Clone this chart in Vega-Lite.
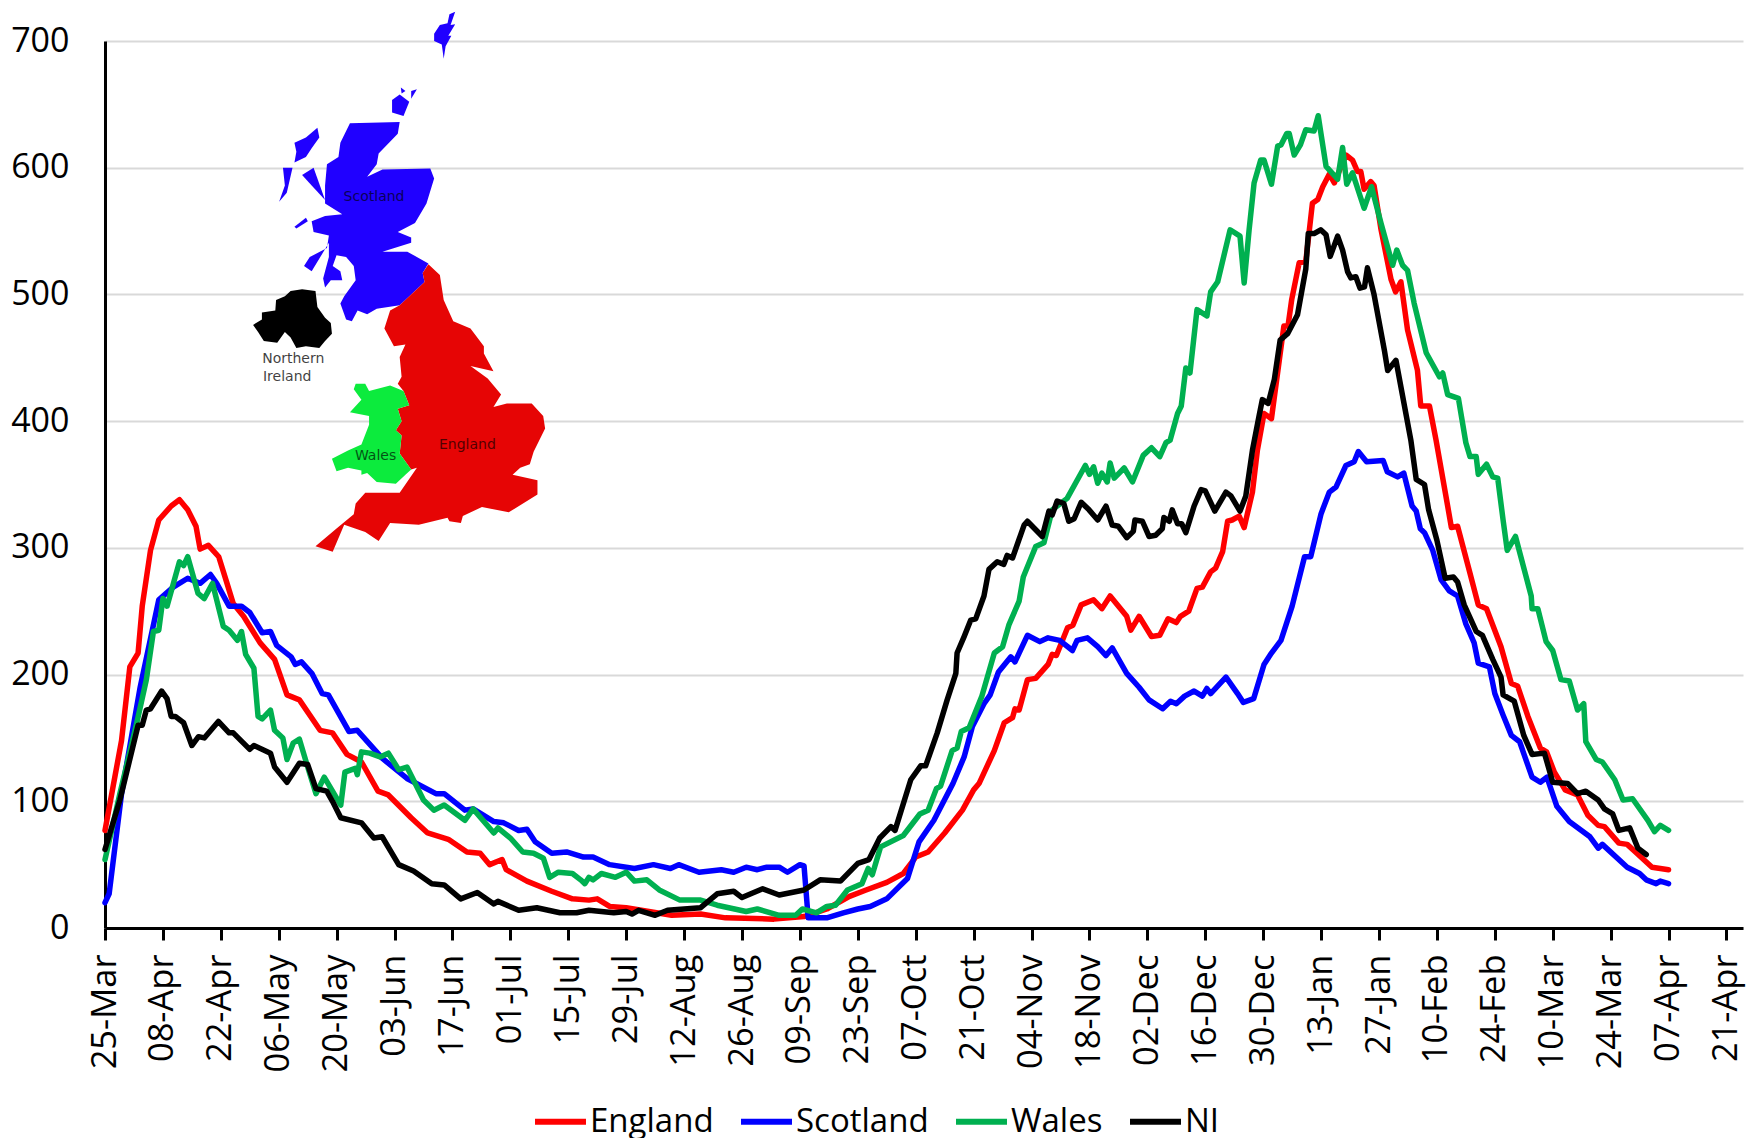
{"$schema":"https://vega.github.io/schema/vega-lite/v6.json","width":1638,"height":887,"autosize":{"type":"none"},"padding":{"left":105,"top":41,"right":3,"bottom":210},"background":"white","config":{"view":{"stroke":null},"font":"Open Sans"},
"datasets":{"map":[
{"r":"Scotland","p":1,"x":915,"y":345},{"r":"Scotland","p":1,"x":1045,"y":342},{"r":"Scotland","p":1,"x":1040,"y":375},{"r":"Scotland","p":1,"x":990,"y":430},{"r":"Scotland","p":1,"x":985,"y":460},{"r":"Scotland","p":1,"x":960,"y":495},{"r":"Scotland","p":1,"x":1000,"y":475},{"r":"Scotland","p":1,"x":1125,"y":472},{"r":"Scotland","p":1,"x":1135,"y":500},{"r":"Scotland","p":1,"x":1115,"y":570},{"r":"Scotland","p":1,"x":1085,"y":625},{"r":"Scotland","p":1,"x":1040,"y":650},{"r":"Scotland","p":1,"x":1075,"y":665},{"r":"Scotland","p":1,"x":1075,"y":680},{"r":"Scotland","p":1,"x":1000,"y":705},{"r":"Scotland","p":1,"x":1065,"y":705},{"r":"Scotland","p":1,"x":1120,"y":738},{"r":"Scotland","p":1,"x":1105,"y":765},{"r":"Scotland","p":1,"x":1110,"y":790},{"r":"Scotland","p":1,"x":1045,"y":855},{"r":"Scotland","p":1,"x":985,"y":865},{"r":"Scotland","p":1,"x":960,"y":880},{"r":"Scotland","p":1,"x":935,"y":870},{"r":"Scotland","p":1,"x":920,"y":900},{"r":"Scotland","p":1,"x":905,"y":895},{"r":"Scotland","p":1,"x":890,"y":850},{"r":"Scotland","p":1,"x":900,"y":830},{"r":"Scotland","p":1,"x":930,"y":785},{"r":"Scotland","p":1,"x":925,"y":745},{"r":"Scotland","p":1,"x":905,"y":720},{"r":"Scotland","p":1,"x":880,"y":715},{"r":"Scotland","p":1,"x":870,"y":745},{"r":"Scotland","p":1,"x":890,"y":760},{"r":"Scotland","p":1,"x":895,"y":785},{"r":"Scotland","p":1,"x":865,"y":785},{"r":"Scotland","p":1,"x":850,"y":805},{"r":"Scotland","p":1,"x":845,"y":780},{"r":"Scotland","p":1,"x":860,"y":720},{"r":"Scotland","p":1,"x":860,"y":680},{"r":"Scotland","p":1,"x":815,"y":760},{"r":"Scotland","p":1,"x":795,"y":745},{"r":"Scotland","p":1,"x":810,"y":720},{"r":"Scotland","p":1,"x":855,"y":695},{"r":"Scotland","p":1,"x":860,"y":660},{"r":"Scotland","p":1,"x":820,"y":650},{"r":"Scotland","p":1,"x":815,"y":620},{"r":"Scotland","p":1,"x":850,"y":605},{"r":"Scotland","p":1,"x":895,"y":600},{"r":"Scotland","p":1,"x":850,"y":570},{"r":"Scotland","p":1,"x":850,"y":520},{"r":"Scotland","p":1,"x":855,"y":460},{"r":"Scotland","p":1,"x":885,"y":440},{"r":"Scotland","p":1,"x":890,"y":400},
{"r":"Scotland","p":2,"x":770,"y":400},{"r":"Scotland","p":2,"x":800,"y":385},{"r":"Scotland","p":2,"x":830,"y":358},{"r":"Scotland","p":2,"x":835,"y":385},{"r":"Scotland","p":2,"x":815,"y":415},{"r":"Scotland","p":2,"x":800,"y":440},{"r":"Scotland","p":2,"x":770,"y":455},{"r":"Scotland","p":2,"x":775,"y":425},
{"r":"Scotland","p":3,"x":740,"y":470},{"r":"Scotland","p":3,"x":765,"y":470},{"r":"Scotland","p":3,"x":750,"y":540},{"r":"Scotland","p":3,"x":730,"y":565},{"r":"Scotland","p":3,"x":745,"y":520},
{"r":"Scotland","p":4,"x":790,"y":490},{"r":"Scotland","p":4,"x":820,"y":470},{"r":"Scotland","p":4,"x":840,"y":530},{"r":"Scotland","p":4,"x":850,"y":560},{"r":"Scotland","p":4,"x":815,"y":520},
{"r":"Scotland","p":5,"x":770,"y":635},{"r":"Scotland","p":5,"x":800,"y":610},{"r":"Scotland","p":5,"x":805,"y":620},{"r":"Scotland","p":5,"x":775,"y":640},
{"r":"Scotland","p":6,"x":1025,"y":280},{"r":"Scotland","p":6,"x":1045,"y":265},{"r":"Scotland","p":6,"x":1070,"y":285},{"r":"Scotland","p":6,"x":1055,"y":325},{"r":"Scotland","p":6,"x":1025,"y":315},
{"r":"Scotland","p":7,"x":1048,"y":245},{"r":"Scotland","p":7,"x":1060,"y":255},{"r":"Scotland","p":7,"x":1050,"y":262},
{"r":"Scotland","p":8,"x":1075,"y":255},{"r":"Scotland","p":8,"x":1090,"y":250},{"r":"Scotland","p":8,"x":1075,"y":277},
{"r":"Scotland","p":9,"x":1135,"y":95},{"r":"Scotland","p":9,"x":1150,"y":70},{"r":"Scotland","p":9,"x":1170,"y":65},{"r":"Scotland","p":9,"x":1175,"y":40},{"r":"Scotland","p":9,"x":1190,"y":33},{"r":"Scotland","p":9,"x":1178,"y":70},{"r":"Scotland","p":9,"x":1190,"y":68},{"r":"Scotland","p":9,"x":1172,"y":100},{"r":"Scotland","p":9,"x":1180,"y":100},{"r":"Scotland","p":9,"x":1165,"y":130},{"r":"Scotland","p":9,"x":1160,"y":165},{"r":"Scotland","p":9,"x":1155,"y":125},{"r":"Scotland","p":9,"x":1135,"y":115},
{"r":"NI","p":10,"x":760,"y":815},{"r":"NI","p":10,"x":790,"y":810},{"r":"NI","p":10,"x":825,"y":815},{"r":"NI","p":10,"x":830,"y":860},{"r":"NI","p":10,"x":850,"y":890},{"r":"NI","p":10,"x":865,"y":905},{"r":"NI","p":10,"x":868,"y":935},{"r":"NI","p":10,"x":850,"y":955},{"r":"NI","p":10,"x":835,"y":975},{"r":"NI","p":10,"x":800,"y":970},{"r":"NI","p":10,"x":775,"y":975},{"r":"NI","p":10,"x":760,"y":945},{"r":"NI","p":10,"x":745,"y":930},{"r":"NI","p":10,"x":725,"y":960},{"r":"NI","p":10,"x":690,"y":955},{"r":"NI","p":10,"x":675,"y":930},{"r":"NI","p":10,"x":662,"y":910},{"r":"NI","p":10,"x":685,"y":895},{"r":"NI","p":10,"x":685,"y":875},{"r":"NI","p":10,"x":720,"y":870},{"r":"NI","p":10,"x":722,"y":840},{"r":"NI","p":10,"x":745,"y":830},
{"r":"England","p":11,"x":1120,"y":740},{"r":"England","p":11,"x":1150,"y":770},{"r":"England","p":11,"x":1160,"y":840},{"r":"England","p":11,"x":1185,"y":900},{"r":"England","p":11,"x":1230,"y":920},{"r":"England","p":11,"x":1265,"y":970},{"r":"England","p":11,"x":1265,"y":990},{"r":"England","p":11,"x":1290,"y":1040},{"r":"England","p":11,"x":1230,"y":1025},{"r":"England","p":11,"x":1275,"y":1060},{"r":"England","p":11,"x":1310,"y":1105},{"r":"England","p":11,"x":1290,"y":1140},{"r":"England","p":11,"x":1325,"y":1130},{"r":"England","p":11,"x":1390,"y":1130},{"r":"England","p":11,"x":1420,"y":1165},{"r":"England","p":11,"x":1425,"y":1200},{"r":"England","p":11,"x":1395,"y":1265},{"r":"England","p":11,"x":1385,"y":1300},{"r":"England","p":11,"x":1360,"y":1310},{"r":"England","p":11,"x":1340,"y":1330},{"r":"England","p":11,"x":1405,"y":1345},{"r":"England","p":11,"x":1405,"y":1385},{"r":"England","p":11,"x":1330,"y":1435},{"r":"England","p":11,"x":1260,"y":1420},{"r":"England","p":11,"x":1210,"y":1445},{"r":"England","p":11,"x":1205,"y":1465},{"r":"England","p":11,"x":1175,"y":1460},{"r":"England","p":11,"x":1170,"y":1450},{"r":"England","p":11,"x":1095,"y":1470},{"r":"England","p":11,"x":1020,"y":1465},{"r":"England","p":11,"x":990,"y":1515},{"r":"England","p":11,"x":955,"y":1490},{"r":"England","p":11,"x":900,"y":1470},{"r":"England","p":11,"x":870,"y":1545},{"r":"England","p":11,"x":825,"y":1530},{"r":"England","p":11,"x":880,"y":1480},{"r":"England","p":11,"x":925,"y":1440},{"r":"England","p":11,"x":930,"y":1410},{"r":"England","p":11,"x":955,"y":1380},{"r":"England","p":11,"x":1045,"y":1380},{"r":"England","p":11,"x":1090,"y":1310},{"r":"England","p":11,"x":1075,"y":1315},{"r":"England","p":11,"x":1045,"y":1270},{"r":"England","p":11,"x":1050,"y":1220},{"r":"England","p":11,"x":1035,"y":1205},{"r":"England","p":11,"x":1050,"y":1180},{"r":"England","p":11,"x":1040,"y":1145},{"r":"England","p":11,"x":1070,"y":1135},{"r":"England","p":11,"x":1055,"y":1095},{"r":"England","p":11,"x":1040,"y":1075},{"r":"England","p":11,"x":1050,"y":1055},{"r":"England","p":11,"x":1045,"y":1000},{"r":"England","p":11,"x":1060,"y":965},{"r":"England","p":11,"x":1030,"y":970},{"r":"England","p":11,"x":1005,"y":920},{"r":"England","p":11,"x":1020,"y":870},{"r":"England","p":11,"x":1045,"y":855},{"r":"England","p":11,"x":1110,"y":790},{"r":"England","p":11,"x":1105,"y":765},
{"r":"Wales","p":12,"x":930,"y":1075},{"r":"Wales","p":12,"x":955,"y":1075},{"r":"Wales","p":12,"x":965,"y":1095},{"r":"Wales","p":12,"x":1020,"y":1080},{"r":"Wales","p":12,"x":1055,"y":1095},{"r":"Wales","p":12,"x":1070,"y":1135},{"r":"Wales","p":12,"x":1040,"y":1145},{"r":"Wales","p":12,"x":1050,"y":1180},{"r":"Wales","p":12,"x":1035,"y":1205},{"r":"Wales","p":12,"x":1050,"y":1220},{"r":"Wales","p":12,"x":1045,"y":1270},{"r":"Wales","p":12,"x":1075,"y":1315},{"r":"Wales","p":12,"x":1060,"y":1330},{"r":"Wales","p":12,"x":1035,"y":1355},{"r":"Wales","p":12,"x":985,"y":1350},{"r":"Wales","p":12,"x":960,"y":1325},{"r":"Wales","p":12,"x":945,"y":1330},{"r":"Wales","p":12,"x":945,"y":1318},{"r":"Wales","p":12,"x":910,"y":1310},{"r":"Wales","p":12,"x":880,"y":1320},{"r":"Wales","p":12,"x":868,"y":1285},{"r":"Wales","p":12,"x":910,"y":1262},{"r":"Wales","p":12,"x":945,"y":1245},{"r":"Wales","p":12,"x":965,"y":1190},{"r":"Wales","p":12,"x":965,"y":1165},{"r":"Wales","p":12,"x":915,"y":1155},{"r":"Wales","p":12,"x":945,"y":1120},{"r":"Wales","p":12,"x":925,"y":1090}
],
"labels":[{"t":"Scotland","x":978,"y":553,"g":"in"},{"t":"England","x":1222,"y":1247,"g":"in"},{"t":"Wales","x":982,"y":1278,"g":"in"},{"t":"Northern","x":767,"y":1005,"g":"out"},{"t":"Ireland","x":751,"y":1057,"g":"out"}],
"series":[
{"s":"England","d":0,"v":77},{"s":"England","d":4,"v":148},{"s":"England","d":6,"v":206},{"s":"England","d":8,"v":217},{"s":"England","d":9,"v":254},{"s":"England","d":11,"v":298},{"s":"England","d":13,"v":322},{"s":"England","d":16,"v":333},{"s":"England","d":18,"v":338},{"s":"England","d":20,"v":330},{"s":"England","d":22,"v":317},{"s":"England","d":23,"v":299},{"s":"England","d":25,"v":302},{"s":"England","d":27.5,"v":293},{"s":"England","d":29.5,"v":272},{"s":"England","d":31,"v":256},{"s":"England","d":33.5,"v":246},{"s":"England","d":37.5,"v":225},{"s":"England","d":41,"v":212},{"s":"England","d":44,"v":184},{"s":"England","d":47,"v":180},{"s":"England","d":52,"v":156},{"s":"England","d":55,"v":154},{"s":"England","d":58.5,"v":137},{"s":"England","d":62,"v":131},{"s":"England","d":66,"v":108},{"s":"England","d":68.5,"v":105},{"s":"England","d":74,"v":87},{"s":"England","d":78,"v":75},{"s":"England","d":83,"v":70},{"s":"England","d":87.5,"v":60},{"s":"England","d":90.7,"v":59},{"s":"England","d":93,"v":50},{"s":"England","d":96,"v":54},{"s":"England","d":97,"v":46},{"s":"England","d":102,"v":37},{"s":"England","d":108,"v":29},{"s":"England","d":113,"v":23},{"s":"England","d":117,"v":22},{"s":"England","d":119,"v":23},{"s":"England","d":122,"v":17},{"s":"England","d":126,"v":16},{"s":"England","d":137,"v":10},{"s":"England","d":144,"v":11},{"s":"England","d":150,"v":8},{"s":"England","d":161.7,"v":7},{"s":"England","d":169,"v":9},{"s":"England","d":174.5,"v":15},{"s":"England","d":180,"v":25},{"s":"England","d":184,"v":30},{"s":"England","d":189,"v":36},{"s":"England","d":193,"v":43},{"s":"England","d":196,"v":56},{"s":"England","d":199,"v":60},{"s":"England","d":203,"v":75},{"s":"England","d":207.3,"v":93},{"s":"England","d":210,"v":109},{"s":"England","d":211.3,"v":114},{"s":"England","d":215,"v":140},{"s":"England","d":217.4,"v":162},{"s":"England","d":219.4,"v":166},{"s":"England","d":220,"v":173},{"s":"England","d":221,"v":172},{"s":"England","d":223,"v":196},{"s":"England","d":225,"v":197},{"s":"England","d":228,"v":208},{"s":"England","d":229,"v":216},{"s":"England","d":230,"v":215},{"s":"England","d":232.7,"v":237},{"s":"England","d":234,"v":239},{"s":"England","d":236,"v":255},{"s":"England","d":239,"v":259},{"s":"England","d":241,"v":252},{"s":"England","d":243,"v":262},{"s":"England","d":247,"v":246},{"s":"England","d":248,"v":235},{"s":"England","d":250,"v":246},{"s":"England","d":253,"v":230},{"s":"England","d":255,"v":231},{"s":"England","d":257,"v":244},{"s":"England","d":259,"v":241},{"s":"England","d":260,"v":246},{"s":"England","d":262,"v":250},{"s":"England","d":264,"v":268},{"s":"England","d":265.3,"v":269},{"s":"England","d":267.3,"v":281},{"s":"England","d":268.5,"v":284},{"s":"England","d":270.2,"v":297},{"s":"England","d":271.4,"v":321},{"s":"England","d":272.5,"v":322},{"s":"England","d":274.2,"v":325},{"s":"England","d":275.4,"v":316},{"s":"England","d":277.4,"v":344},{"s":"England","d":278.6,"v":377},{"s":"England","d":280.2,"v":406},{"s":"England","d":282,"v":402},{"s":"England","d":285,"v":475},{"s":"England","d":286,"v":475},{"s":"England","d":286.9,"v":496},{"s":"England","d":288.7,"v":525},{"s":"England","d":290.3,"v":526},{"s":"England","d":291.9,"v":572},{"s":"England","d":293.2,"v":575},{"s":"England","d":294.4,"v":585},{"s":"England","d":296,"v":595},{"s":"England","d":297.2,"v":588},{"s":"England","d":300,"v":610},{"s":"England","d":301.6,"v":606},{"s":"England","d":302.8,"v":597},{"s":"England","d":303.6,"v":597},{"s":"England","d":304.4,"v":583},{"s":"England","d":306,"v":589},{"s":"England","d":306.8,"v":586},{"s":"England","d":308.5,"v":551},{"s":"England","d":310.9,"v":512},{"s":"England","d":312,"v":502},{"s":"England","d":313.3,"v":510},{"s":"England","d":314.9,"v":472},{"s":"England","d":317.3,"v":440},{"s":"England","d":318.1,"v":412},{"s":"England","d":320.2,"v":412},{"s":"England","d":321.8,"v":385},{"s":"England","d":324.6,"v":333},{"s":"England","d":325.5,"v":316},{"s":"England","d":327,"v":317},{"s":"England","d":330,"v":280},{"s":"England","d":332,"v":255},{"s":"England","d":334,"v":252},{"s":"England","d":337.5,"v":222},{"s":"England","d":340,"v":193},{"s":"England","d":341.5,"v":191},{"s":"England","d":344,"v":167},{"s":"England","d":347,"v":142},{"s":"England","d":348.5,"v":139},{"s":"England","d":350.4,"v":123},{"s":"England","d":353,"v":109},{"s":"England","d":356,"v":105},{"s":"England","d":358.5,"v":89},{"s":"England","d":361,"v":81},{"s":"England","d":362.5,"v":80},{"s":"England","d":366,"v":67},{"s":"England","d":368,"v":66},{"s":"England","d":370,"v":60},{"s":"England","d":374,"v":48},{"s":"England","d":378,"v":46},
{"s":"Scotland","d":0,"v":20},{"s":"Scotland","d":1,"v":27},{"s":"Scotland","d":4,"v":106},{"s":"Scotland","d":8.5,"v":190},{"s":"Scotland","d":13,"v":259},{"s":"Scotland","d":16.5,"v":269},{"s":"Scotland","d":20,"v":276},{"s":"Scotland","d":23,"v":272},{"s":"Scotland","d":25.5,"v":279},{"s":"Scotland","d":27,"v":272},{"s":"Scotland","d":30,"v":254},{"s":"Scotland","d":33,"v":254},{"s":"Scotland","d":35,"v":249},{"s":"Scotland","d":38,"v":233},{"s":"Scotland","d":40,"v":234},{"s":"Scotland","d":41.5,"v":223},{"s":"Scotland","d":45,"v":214},{"s":"Scotland","d":46,"v":208},{"s":"Scotland","d":47.5,"v":210},{"s":"Scotland","d":50,"v":201},{"s":"Scotland","d":52.5,"v":185},{"s":"Scotland","d":54,"v":184},{"s":"Scotland","d":59,"v":155},{"s":"Scotland","d":61,"v":156},{"s":"Scotland","d":67,"v":134},{"s":"Scotland","d":73,"v":118},{"s":"Scotland","d":80,"v":106},{"s":"Scotland","d":82,"v":106},{"s":"Scotland","d":87,"v":93},{"s":"Scotland","d":89,"v":94},{"s":"Scotland","d":94,"v":84},{"s":"Scotland","d":96.4,"v":83},{"s":"Scotland","d":100,"v":77},{"s":"Scotland","d":102,"v":78},{"s":"Scotland","d":104,"v":68},{"s":"Scotland","d":108,"v":59},{"s":"Scotland","d":111.6,"v":60},{"s":"Scotland","d":115.7,"v":56},{"s":"Scotland","d":118,"v":56},{"s":"Scotland","d":122,"v":50},{"s":"Scotland","d":128,"v":47},{"s":"Scotland","d":132.6,"v":50},{"s":"Scotland","d":136.7,"v":47},{"s":"Scotland","d":138.7,"v":50},{"s":"Scotland","d":143.6,"v":44},{"s":"Scotland","d":149,"v":46},{"s":"Scotland","d":152,"v":44},{"s":"Scotland","d":155,"v":48},{"s":"Scotland","d":157.7,"v":46},{"s":"Scotland","d":160,"v":48},{"s":"Scotland","d":163,"v":48},{"s":"Scotland","d":165,"v":44},{"s":"Scotland","d":168,"v":50},{"s":"Scotland","d":169,"v":49},{"s":"Scotland","d":170,"v":8},{"s":"Scotland","d":174.5,"v":8},{"s":"Scotland","d":178.5,"v":12},{"s":"Scotland","d":182,"v":15},{"s":"Scotland","d":185,"v":17},{"s":"Scotland","d":189,"v":23},{"s":"Scotland","d":194,"v":39},{"s":"Scotland","d":196.8,"v":68},{"s":"Scotland","d":200.4,"v":85},{"s":"Scotland","d":205,"v":114},{"s":"Scotland","d":207.7,"v":135},{"s":"Scotland","d":209.7,"v":159},{"s":"Scotland","d":212.5,"v":177},{"s":"Scotland","d":214,"v":184},{"s":"Scotland","d":216,"v":202},{"s":"Scotland","d":219,"v":214},{"s":"Scotland","d":220,"v":210},{"s":"Scotland","d":223,"v":231},{"s":"Scotland","d":226,"v":226},{"s":"Scotland","d":228,"v":229},{"s":"Scotland","d":230.8,"v":227},{"s":"Scotland","d":233.9,"v":219},{"s":"Scotland","d":235,"v":227},{"s":"Scotland","d":237.5,"v":229},{"s":"Scotland","d":240,"v":222},{"s":"Scotland","d":242,"v":215},{"s":"Scotland","d":243.5,"v":221},{"s":"Scotland","d":247,"v":201},{"s":"Scotland","d":250,"v":190},{"s":"Scotland","d":252.4,"v":180},{"s":"Scotland","d":255.7,"v":173},{"s":"Scotland","d":257.6,"v":179},{"s":"Scotland","d":259,"v":177},{"s":"Scotland","d":261,"v":183},{"s":"Scotland","d":263.3,"v":187},{"s":"Scotland","d":265.3,"v":183},{"s":"Scotland","d":266.4,"v":189},{"s":"Scotland","d":267.3,"v":185},{"s":"Scotland","d":271,"v":198},{"s":"Scotland","d":273.8,"v":185},{"s":"Scotland","d":275.2,"v":178},{"s":"Scotland","d":277.7,"v":181},{"s":"Scotland","d":280.2,"v":208},{"s":"Scotland","d":282,"v":217},{"s":"Scotland","d":284.3,"v":227},{"s":"Scotland","d":287,"v":254},{"s":"Scotland","d":290,"v":293},{"s":"Scotland","d":291.5,"v":293},{"s":"Scotland","d":294,"v":327},{"s":"Scotland","d":296,"v":344},{"s":"Scotland","d":297.6,"v":348},{"s":"Scotland","d":300,"v":365},{"s":"Scotland","d":302,"v":368},{"s":"Scotland","d":303,"v":376},{"s":"Scotland","d":305,"v":368},{"s":"Scotland","d":309,"v":369},{"s":"Scotland","d":310,"v":360},{"s":"Scotland","d":312.5,"v":356},{"s":"Scotland","d":314,"v":359},{"s":"Scotland","d":316,"v":333},{"s":"Scotland","d":317,"v":329},{"s":"Scotland","d":318,"v":315},{"s":"Scotland","d":319,"v":312},{"s":"Scotland","d":321,"v":298},{"s":"Scotland","d":323,"v":275},{"s":"Scotland","d":325,"v":266},{"s":"Scotland","d":327,"v":262},{"s":"Scotland","d":329,"v":240},{"s":"Scotland","d":331,"v":225},{"s":"Scotland","d":332,"v":209},{"s":"Scotland","d":334.7,"v":206},{"s":"Scotland","d":336,"v":185},{"s":"Scotland","d":338,"v":168},{"s":"Scotland","d":340,"v":152},{"s":"Scotland","d":342,"v":147},{"s":"Scotland","d":345,"v":119},{"s":"Scotland","d":347,"v":115},{"s":"Scotland","d":348.6,"v":119},{"s":"Scotland","d":351,"v":96},{"s":"Scotland","d":354,"v":84},{"s":"Scotland","d":359,"v":72},{"s":"Scotland","d":361,"v":63},{"s":"Scotland","d":362,"v":66},{"s":"Scotland","d":368,"v":48},{"s":"Scotland","d":371,"v":43},{"s":"Scotland","d":372.6,"v":38},{"s":"Scotland","d":375,"v":35},{"s":"Scotland","d":376,"v":37},{"s":"Scotland","d":378,"v":35},
{"s":"Wales","d":0,"v":54},{"s":"Wales","d":3.6,"v":106},{"s":"Wales","d":7.7,"v":162},{"s":"Wales","d":10,"v":196},{"s":"Wales","d":11.7,"v":234},{"s":"Wales","d":13,"v":235},{"s":"Wales","d":14,"v":260},{"s":"Wales","d":15,"v":254},{"s":"Wales","d":18,"v":289},{"s":"Wales","d":19,"v":286},{"s":"Wales","d":20,"v":293},{"s":"Wales","d":22.5,"v":264},{"s":"Wales","d":24,"v":260},{"s":"Wales","d":26,"v":272},{"s":"Wales","d":28.6,"v":238},{"s":"Wales","d":30,"v":235},{"s":"Wales","d":32,"v":227},{"s":"Wales","d":33,"v":234},{"s":"Wales","d":34,"v":216},{"s":"Wales","d":36,"v":205},{"s":"Wales","d":37,"v":167},{"s":"Wales","d":38,"v":165},{"s":"Wales","d":40,"v":172},{"s":"Wales","d":41,"v":156},{"s":"Wales","d":43,"v":150},{"s":"Wales","d":44,"v":133},{"s":"Wales","d":45.5,"v":146},{"s":"Wales","d":47,"v":149},{"s":"Wales","d":49,"v":127},{"s":"Wales","d":51,"v":106},{"s":"Wales","d":53,"v":119},{"s":"Wales","d":57,"v":97},{"s":"Wales","d":58,"v":123},{"s":"Wales","d":60.5,"v":126},{"s":"Wales","d":61,"v":121},{"s":"Wales","d":62,"v":139},{"s":"Wales","d":64,"v":138},{"s":"Wales","d":66.5,"v":135},{"s":"Wales","d":68.5,"v":138},{"s":"Wales","d":71,"v":125},{"s":"Wales","d":73,"v":127},{"s":"Wales","d":77,"v":101},{"s":"Wales","d":79.5,"v":93},{"s":"Wales","d":82,"v":97},{"s":"Wales","d":87,"v":85},{"s":"Wales","d":89,"v":94},{"s":"Wales","d":94,"v":75},{"s":"Wales","d":95,"v":79},{"s":"Wales","d":98,"v":71},{"s":"Wales","d":101,"v":60},{"s":"Wales","d":103.6,"v":59},{"s":"Wales","d":106,"v":55},{"s":"Wales","d":107.5,"v":40},{"s":"Wales","d":109.6,"v":44},{"s":"Wales","d":113,"v":43},{"s":"Wales","d":115,"v":38},{"s":"Wales","d":116,"v":35},{"s":"Wales","d":117,"v":40},{"s":"Wales","d":118,"v":38},{"s":"Wales","d":120,"v":43},{"s":"Wales","d":123.4,"v":40},{"s":"Wales","d":126,"v":44},{"s":"Wales","d":128,"v":37},{"s":"Wales","d":131,"v":38},{"s":"Wales","d":134,"v":30},{"s":"Wales","d":139,"v":22},{"s":"Wales","d":144,"v":22},{"s":"Wales","d":148,"v":18},{"s":"Wales","d":155,"v":13},{"s":"Wales","d":157.7,"v":15},{"s":"Wales","d":163,"v":10},{"s":"Wales","d":167,"v":10},{"s":"Wales","d":168.6,"v":15},{"s":"Wales","d":172,"v":12},{"s":"Wales","d":174.5,"v":17},{"s":"Wales","d":176.6,"v":18},{"s":"Wales","d":179.5,"v":30},{"s":"Wales","d":183,"v":35},{"s":"Wales","d":184.5,"v":47},{"s":"Wales","d":185.5,"v":42},{"s":"Wales","d":187.5,"v":64},{"s":"Wales","d":193,"v":73},{"s":"Wales","d":197,"v":90},{"s":"Wales","d":199,"v":93},{"s":"Wales","d":201,"v":110},{"s":"Wales","d":202,"v":112},{"s":"Wales","d":204.8,"v":140},{"s":"Wales","d":206,"v":142},{"s":"Wales","d":207,"v":155},{"s":"Wales","d":208.9,"v":158},{"s":"Wales","d":212,"v":183},{"s":"Wales","d":215,"v":217},{"s":"Wales","d":217,"v":222},{"s":"Wales","d":218.5,"v":239},{"s":"Wales","d":221,"v":258},{"s":"Wales","d":222,"v":277},{"s":"Wales","d":225,"v":301},{"s":"Wales","d":227,"v":304},{"s":"Wales","d":229,"v":330},{"s":"Wales","d":232.6,"v":339},{"s":"Wales","d":237,"v":365},{"s":"Wales","d":238,"v":358},{"s":"Wales","d":239,"v":364},{"s":"Wales","d":240,"v":351},{"s":"Wales","d":241,"v":359},{"s":"Wales","d":242.3,"v":352},{"s":"Wales","d":243,"v":367},{"s":"Wales","d":244,"v":355},{"s":"Wales","d":246.4,"v":363},{"s":"Wales","d":248.4,"v":352},{"s":"Wales","d":251,"v":373},{"s":"Wales","d":253,"v":379},{"s":"Wales","d":255,"v":372},{"s":"Wales","d":256.5,"v":383},{"s":"Wales","d":257.5,"v":385},{"s":"Wales","d":259.3,"v":406},{"s":"Wales","d":260.2,"v":412},{"s":"Wales","d":261.3,"v":442},{"s":"Wales","d":262.3,"v":438},{"s":"Wales","d":264,"v":488},{"s":"Wales","d":266.4,"v":483},{"s":"Wales","d":267.3,"v":502},{"s":"Wales","d":269,"v":510},{"s":"Wales","d":272,"v":551},{"s":"Wales","d":274.4,"v":546},{"s":"Wales","d":275.4,"v":509},{"s":"Wales","d":276.6,"v":551},{"s":"Wales","d":277.8,"v":588},{"s":"Wales","d":279.4,"v":606},{"s":"Wales","d":280.2,"v":606},{"s":"Wales","d":282,"v":587},{"s":"Wales","d":283.5,"v":617},{"s":"Wales","d":284.3,"v":618},{"s":"Wales","d":285.7,"v":627},{"s":"Wales","d":286.3,"v":627},{"s":"Wales","d":287.5,"v":610},{"s":"Wales","d":289,"v":618},{"s":"Wales","d":290.3,"v":630},{"s":"Wales","d":292.3,"v":629},{"s":"Wales","d":293.3,"v":641},{"s":"Wales","d":295.2,"v":601},{"s":"Wales","d":298,"v":591},{"s":"Wales","d":299.2,"v":616},{"s":"Wales","d":300.2,"v":587},{"s":"Wales","d":301.6,"v":596},{"s":"Wales","d":304.4,"v":568},{"s":"Wales","d":306.2,"v":585},{"s":"Wales","d":308.5,"v":556},{"s":"Wales","d":311.3,"v":523},{"s":"Wales","d":312.3,"v":535},{"s":"Wales","d":313.7,"v":523},{"s":"Wales","d":314.9,"v":519},{"s":"Wales","d":316.5,"v":493},{"s":"Wales","d":319.4,"v":454},{"s":"Wales","d":322.6,"v":435},{"s":"Wales","d":323.4,"v":438},{"s":"Wales","d":324.6,"v":421},{"s":"Wales","d":327.2,"v":418},{"s":"Wales","d":329,"v":383},{"s":"Wales","d":330,"v":372},{"s":"Wales","d":331.5,"v":372},{"s":"Wales","d":332,"v":358},{"s":"Wales","d":334,"v":366},{"s":"Wales","d":335.5,"v":356},{"s":"Wales","d":336.7,"v":355},{"s":"Wales","d":338,"v":322},{"s":"Wales","d":339,"v":298},{"s":"Wales","d":341,"v":309},{"s":"Wales","d":344.8,"v":262},{"s":"Wales","d":345,"v":252},{"s":"Wales","d":346.4,"v":252},{"s":"Wales","d":348.4,"v":226},{"s":"Wales","d":350,"v":219},{"s":"Wales","d":352,"v":196},{"s":"Wales","d":354,"v":195},{"s":"Wales","d":356,"v":172},{"s":"Wales","d":357.5,"v":177},{"s":"Wales","d":358,"v":147},{"s":"Wales","d":360.5,"v":133},{"s":"Wales","d":362,"v":131},{"s":"Wales","d":365,"v":117},{"s":"Wales","d":367,"v":101},{"s":"Wales","d":369.3,"v":102},{"s":"Wales","d":373,"v":85},{"s":"Wales","d":374.6,"v":76},{"s":"Wales","d":376,"v":81},{"s":"Wales","d":378,"v":77},
{"s":"NI","d":0,"v":62},{"s":"NI","d":3.6,"v":101},{"s":"NI","d":8,"v":160},{"s":"NI","d":9,"v":160},{"s":"NI","d":10,"v":172},{"s":"NI","d":11,"v":173},{"s":"NI","d":13.7,"v":187},{"s":"NI","d":15,"v":181},{"s":"NI","d":16,"v":167},{"s":"NI","d":17,"v":167},{"s":"NI","d":19,"v":162},{"s":"NI","d":21,"v":144},{"s":"NI","d":22.6,"v":151},{"s":"NI","d":24,"v":150},{"s":"NI","d":27.4,"v":163},{"s":"NI","d":30,"v":154},{"s":"NI","d":31,"v":154},{"s":"NI","d":35,"v":141},{"s":"NI","d":36,"v":144},{"s":"NI","d":40,"v":138},{"s":"NI","d":41,"v":127},{"s":"NI","d":44,"v":115},{"s":"NI","d":47,"v":130},{"s":"NI","d":49,"v":129},{"s":"NI","d":51,"v":110},{"s":"NI","d":53.6,"v":108},{"s":"NI","d":55,"v":100},{"s":"NI","d":57,"v":87},{"s":"NI","d":62,"v":83},{"s":"NI","d":65,"v":71},{"s":"NI","d":67,"v":72},{"s":"NI","d":71,"v":50},{"s":"NI","d":74.6,"v":45},{"s":"NI","d":79,"v":35},{"s":"NI","d":82,"v":34},{"s":"NI","d":86,"v":23},{"s":"NI","d":90,"v":28},{"s":"NI","d":94,"v":19},{"s":"NI","d":95,"v":21},{"s":"NI","d":100,"v":14},{"s":"NI","d":104.4,"v":16},{"s":"NI","d":110,"v":12},{"s":"NI","d":114,"v":12},{"s":"NI","d":117,"v":14},{"s":"NI","d":123,"v":12},{"s":"NI","d":126,"v":13},{"s":"NI","d":127.4,"v":11},{"s":"NI","d":129,"v":14},{"s":"NI","d":133,"v":10},{"s":"NI","d":136,"v":14},{"s":"NI","d":144,"v":16},{"s":"NI","d":148,"v":27},{"s":"NI","d":152,"v":29},{"s":"NI","d":154,"v":24},{"s":"NI","d":159,"v":31},{"s":"NI","d":163,"v":26},{"s":"NI","d":169,"v":30},{"s":"NI","d":172.9,"v":38},{"s":"NI","d":177.8,"v":37},{"s":"NI","d":182,"v":51},{"s":"NI","d":184.7,"v":54},{"s":"NI","d":187.3,"v":71},{"s":"NI","d":190,"v":80},{"s":"NI","d":191,"v":77},{"s":"NI","d":194.8,"v":117},{"s":"NI","d":197.2,"v":128},{"s":"NI","d":198.4,"v":128},{"s":"NI","d":201.2,"v":154},{"s":"NI","d":203.6,"v":180},{"s":"NI","d":205.7,"v":201},{"s":"NI","d":206,"v":217},{"s":"NI","d":207.7,"v":230},{"s":"NI","d":209.3,"v":243},{"s":"NI","d":210.5,"v":244},{"s":"NI","d":212.5,"v":262},{"s":"NI","d":213.7,"v":283},{"s":"NI","d":215.7,"v":289},{"s":"NI","d":217.3,"v":287},{"s":"NI","d":218.1,"v":294},{"s":"NI","d":219.4,"v":292},{"s":"NI","d":222.2,"v":318},{"s":"NI","d":223,"v":321},{"s":"NI","d":226.6,"v":309},{"s":"NI","d":228.2,"v":329},{"s":"NI","d":229,"v":326},{"s":"NI","d":230.2,"v":337},{"s":"NI","d":231.8,"v":335},{"s":"NI","d":233,"v":321},{"s":"NI","d":234.3,"v":323},{"s":"NI","d":236,"v":336},{"s":"NI","d":237.9,"v":330},{"s":"NI","d":240,"v":322},{"s":"NI","d":242,"v":333},{"s":"NI","d":243.5,"v":318},{"s":"NI","d":245,"v":317},{"s":"NI","d":247,"v":308},{"s":"NI","d":248.6,"v":313},{"s":"NI","d":249,"v":322},{"s":"NI","d":250.8,"v":321},{"s":"NI","d":252.4,"v":309},{"s":"NI","d":254,"v":310},{"s":"NI","d":255.6,"v":315},{"s":"NI","d":256,"v":324},{"s":"NI","d":257.3,"v":321},{"s":"NI","d":258,"v":330},{"s":"NI","d":259.3,"v":319},{"s":"NI","d":260.3,"v":319},{"s":"NI","d":261.3,"v":312},{"s":"NI","d":263.3,"v":333},{"s":"NI","d":265,"v":346},{"s":"NI","d":266,"v":345},{"s":"NI","d":268.3,"v":329},{"s":"NI","d":271,"v":344},{"s":"NI","d":272.2,"v":341},{"s":"NI","d":274.4,"v":329},{"s":"NI","d":275.8,"v":341},{"s":"NI","d":277.4,"v":377},{"s":"NI","d":279,"v":404},{"s":"NI","d":279.8,"v":417},{"s":"NI","d":281.2,"v":414},{"s":"NI","d":282.7,"v":433},{"s":"NI","d":284.1,"v":464},{"s":"NI","d":285.9,"v":469},{"s":"NI","d":288.3,"v":484},{"s":"NI","d":290.3,"v":520},{"s":"NI","d":290.9,"v":548},{"s":"NI","d":292.3,"v":548},{"s":"NI","d":293.9,"v":551},{"s":"NI","d":295.2,"v":547},{"s":"NI","d":296.2,"v":530},{"s":"NI","d":298,"v":546},{"s":"NI","d":299.2,"v":535},{"s":"NI","d":300.4,"v":518},{"s":"NI","d":301.2,"v":513},{"s":"NI","d":302.4,"v":514},{"s":"NI","d":303.4,"v":505},{"s":"NI","d":304.5,"v":506},{"s":"NI","d":305.2,"v":521},{"s":"NI","d":306.8,"v":500},{"s":"NI","d":309.3,"v":456},{"s":"NI","d":310.1,"v":440},{"s":"NI","d":312.1,"v":448},{"s":"NI","d":315.7,"v":385},{"s":"NI","d":317,"v":354},{"s":"NI","d":319,"v":350},{"s":"NI","d":320,"v":330},{"s":"NI","d":322,"v":306},{"s":"NI","d":324,"v":276},{"s":"NI","d":326,"v":277},{"s":"NI","d":327,"v":273},{"s":"NI","d":328.6,"v":255},{"s":"NI","d":331.5,"v":234},{"s":"NI","d":333,"v":231},{"s":"NI","d":335.5,"v":212},{"s":"NI","d":337.5,"v":198},{"s":"NI","d":338,"v":184},{"s":"NI","d":340.7,"v":179},{"s":"NI","d":343,"v":152},{"s":"NI","d":345,"v":137},{"s":"NI","d":348,"v":138},{"s":"NI","d":350,"v":115},{"s":"NI","d":353.6,"v":114},{"s":"NI","d":356,"v":106},{"s":"NI","d":358,"v":108},{"s":"NI","d":361,"v":101},{"s":"NI","d":362.5,"v":94},{"s":"NI","d":364.5,"v":90},{"s":"NI","d":366,"v":77},{"s":"NI","d":368.6,"v":79},{"s":"NI","d":370.6,"v":63},{"s":"NI","d":372.6,"v":58}
]},
"layer":[
{"layer":[
 {"data":{"name":"map"},"transform":[{"window":[{"op":"row_number","as":"i"}]}],"mark":{"type":"line","filled":true,"strokeWidth":0},"encoding":{"x":{"field":"x","type":"quantitative","scale":{"domain":[275,4555],"nice":false,"zero":false},"axis":null},"y":{"field":"y","type":"quantitative","scale":{"domain":[115,2599],"reverse":true,"nice":false,"zero":false},"axis":null},"detail":{"field":"p"},"order":{"field":"i"},"color":{"field":"r","type":"nominal","legend":null,"scale":{"domain":["England","Scotland","Wales","NI"],"range":["#e60505","#2000ff","#0ceb3d","#000000"]}}}},
 {"data":{"name":"labels"},"mark":{"type":"text","font":"DejaVu Sans","fontSize":14},"encoding":{"x":{"field":"x","type":"quantitative","scale":{"domain":[275,4555],"nice":false,"zero":false},"axis":null},"y":{"field":"y","type":"quantitative","scale":{"domain":[115,2599],"reverse":true,"nice":false,"zero":false},"axis":null},"text":{"field":"t"},"opacity":{"field":"g","type":"nominal","legend":null,"scale":{"domain":["in","out"],"range":[0.65,0.75]}}}}
]},
{"data":{"name":"series"},"mark":{"type":"line","strokeWidth":5.5,"strokeJoin":"round","strokeCap":"round"},"encoding":{"x":{"field":"d","type":"quantitative","scale":{"domain":[0,396],"nice":false,"zero":false},"axis":{"title":null,"values":[0,14,28,42,56,70,84,98,112,126,140,154,168,182,196,210,224,238,252,266,280,294,308,322,336,350,364,378,392],"labelExpr":"timeFormat(datetime(2020,2,25+datum.value),'%d-%b')","labelAngle":-90,"labelAlign":"right","labelBaseline":"middle","labelFont":"Open Sans","labelFontSize":34.5,"labelColor":"#000000","labelPadding":14,"labelOverlap":false,"labelBound":false,"labelFlush":false,"tickColor":"#000000","tickWidth":3,"tickSize":12,"domainColor":"#000000","domainWidth":3,"grid":false}},"y":{"field":"v","type":"quantitative","scale":{"domain":[0,700],"nice":false},"axis":{"title":null,"values":[0,100,200,300,400,500,600,700],"labelFont":"Open Sans","labelFontSize":34,"labelColor":"#000000","labelPadding":36,"ticks":false,"tickSize":0,"domainColor":"#000000","domainWidth":3,"grid":true,"gridColor":"#d9d9d9","gridWidth":2,"labelBound":false}},"color":{"field":"s","type":"nominal","scale":{"domain":["England","Scotland","Wales","NI"],"range":["#ff0000","#0000ff","#00b050","#000000"]},"legend":{"title":null,"orient":"none","legendX":427,"legendY":1052,"direction":"horizontal","columns":4,"symbolType":"stroke","symbolSize":2600,"symbolStrokeWidth":6,"labelFont":"Open Sans","labelFontSize":33,"labelColor":"#000000","labelOffset":1,"columnPadding":15,"labelLimit":300}}}}
],
"resolve":{"scale":{"x":"independent","y":"independent","color":"independent","opacity":"independent"}}}
